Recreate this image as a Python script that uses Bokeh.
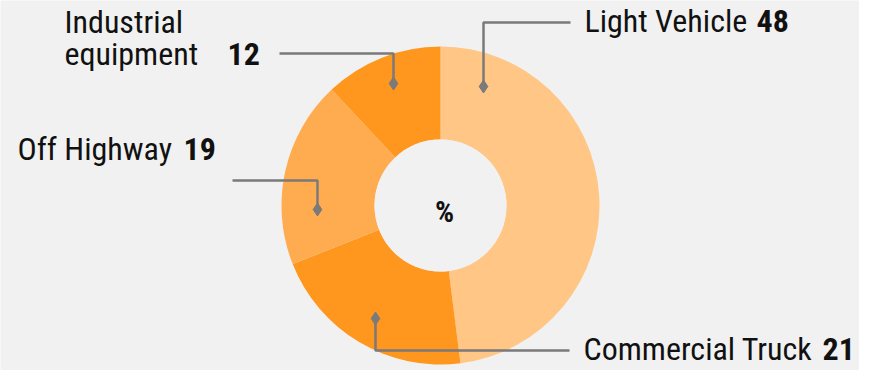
from math import radians
from bokeh.plotting import figure
from bokeh.models import Range1d, ColumnDataSource
from bokeh.core.properties import value
from bokeh.embed import file_html
from bokeh.resources import INLINE

# ---- data ----
categories = ["Light Vehicle", "Commercial Truck", "Off Highway", "Industrial equipment"]
shares = [48, 21, 19, 12]
colors = ["#FFC685", "#FF961E", "#FFAB4F", "#FF961E"]

BG = "#F1F1F1"
LINE = "#7A7A7A"
FONT = "'Liberation Sans Narrow', 'Roboto Condensed', Roboto, sans-serif"
FS = "32px"
BASE_FIX = 12  # rendered alphabetic baseline sits this much lower

W, H = 859, 370
p = figure(width=W, height=H, output_backend="svg", toolbar_location=None,
           x_range=Range1d(0, W), y_range=Range1d(0, H),
           min_border=0, outline_line_color=None,
           background_fill_color=BG, border_fill_color=BG)
p.axis.visible = False
p.grid.visible = False

def Y(img_y):
    return H - img_y

cx, cy = 440, Y(205)
r_out, r_in = 159, 66

total = sum(shares)
starts, ends = [], []
acc = 0.0
for s in shares:
    a0 = acc / total * 360
    acc += s
    a1 = acc / total * 360
    starts.append(radians(90 - a0))
    ends.append(radians(90 - a1))

src = ColumnDataSource(dict(start=starts, end=ends, color=colors))
p.annular_wedge(x=cx, y=cy, inner_radius=r_in, outer_radius=r_out,
                start_angle="start", end_angle="end", direction="clock",
                fill_color="color", line_color=None, source=src)
p.circle(x=cx, y=cy, radius=r_in, fill_color=BG, line_color=None)

p.text(x=[444], y=[Y(211)], text=["%"], text_font=value(FONT), text_font_size="30px",
       text_font_style="bold", text_align="center", text_baseline="middle", text_color="#111111")

# leader lines: anchor (x, y) -> elbow y -> end x   (image pixel layout)
leaders = [
    (483, 86, 22, 570),    # Light Vehicle
    (375, 318, 350, 569),  # Commercial Truck
    (317, 209, 180, 232),  # Off Highway
    (393, 83, 53, 279),    # Industrial
]
for ax, ay, ey, ex in leaders:
    p.line(x=[ax, ax, ex], y=[Y(ay), Y(ey), Y(ey)], line_color=LINE, line_width=2.5)
    p.scatter(x=[ax], y=[Y(ay)], marker="diamond", size=13, color=LINE)

def label(lines, x, baselines, num, nx, nb):
    for t, b in zip(lines, baselines):
        p.text(x=[x], y=[Y(b - BASE_FIX)], text=[t], text_font=value(FONT), text_font_size=FS,
               text_baseline="alphabetic", text_align="left", text_color="#111111")
    p.text(x=[nx], y=[Y(nb - BASE_FIX)], text=[str(num)], text_font=value(FONT), text_font_size=FS,
           text_font_style="bold", text_baseline="alphabetic", text_align="left", text_color="#111111")

label(["Light Vehicle"], 584, [32], shares[0], 756, 32)
label(["Commercial Truck"], 583, [360], shares[1], 822, 360)
label(["Off Highway"], 17, [160], shares[2], 183, 160)
label(["Industrial", "equipment"], 64, [33, 65], shares[3], 227, 65)

open("out.html", "w").write(file_html(p, INLINE))
